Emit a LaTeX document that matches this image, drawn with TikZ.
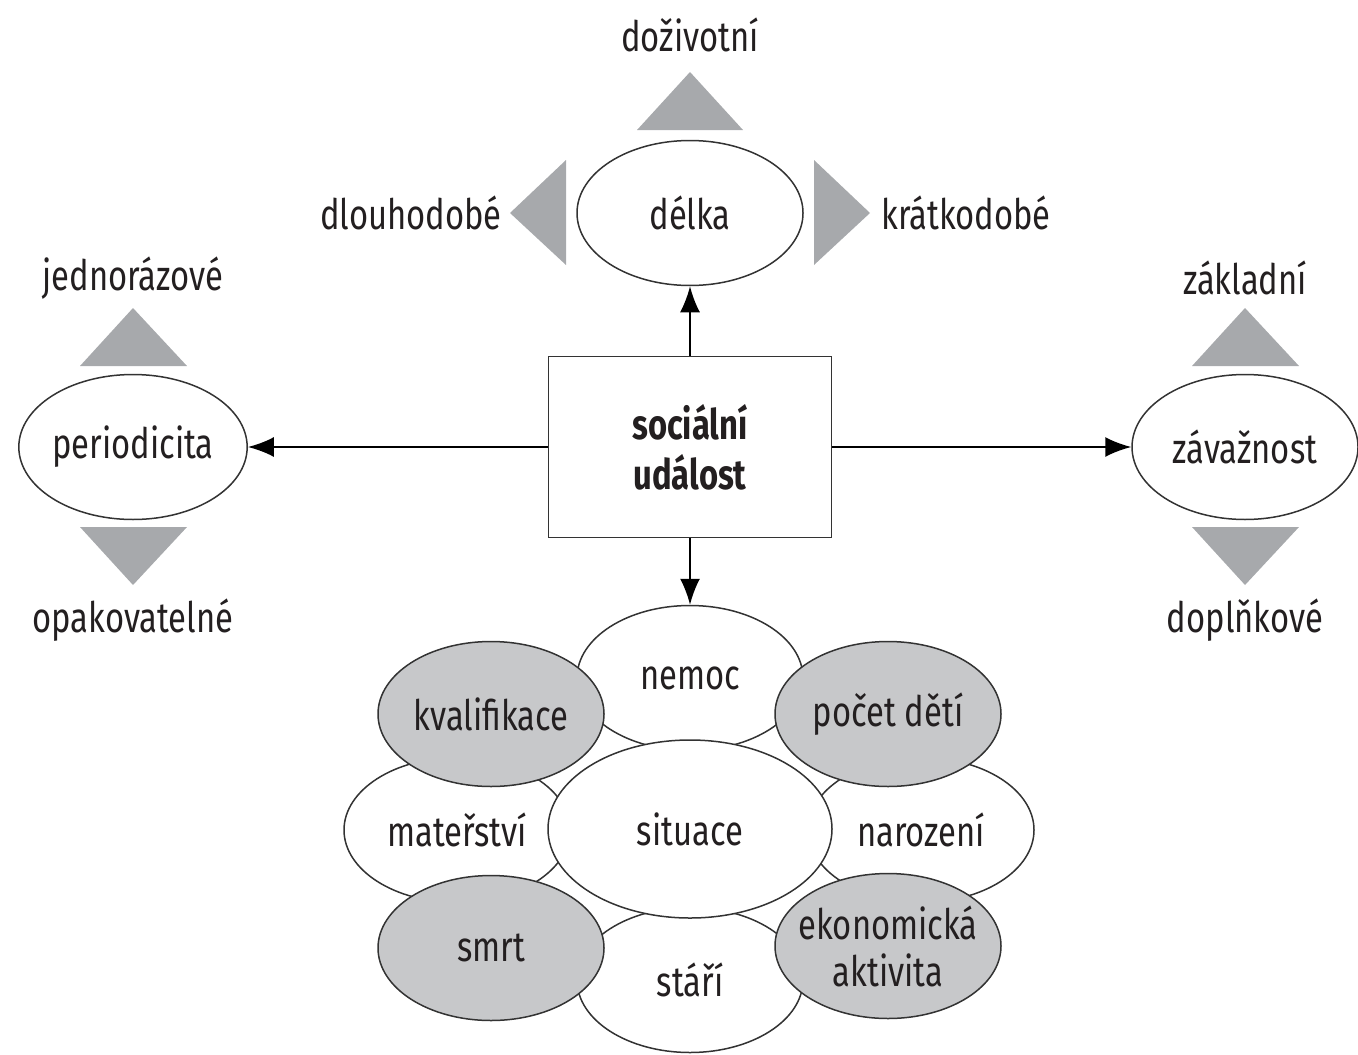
\documentclass[tikz,border=0pt]{standalone}
\usepackage{fontspec}
\setmainfont{Fira Sans}[FakeStretch=0.78]
\usetikzlibrary{arrows.meta,shapes.geometric}
\definecolor{txtgray}{HTML}{231F20}
\definecolor{linegray}{HTML}{333333}
\definecolor{trigray}{HTML}{A7A9AC}
\definecolor{petalgray}{HTML}{C7C8CA}

\begin{document}
\begin{tikzpicture}[x=0.5pt,y=-0.5pt,
  every node/.style={text=txtgray,font=\fontsize{21}{24}\selectfont},
  oval/.style={ellipse,draw=linegray,line width=0.75pt,fill=white,minimum width=113pt,minimum height=72.5pt,inner sep=0pt},
  petal/.style={oval,fill=petalgray},
  arr/.style={-{Latex[length=13pt,width=10pt]},line width=1pt},
  tri/.style={fill=trigray}]
\useasboundingbox (0,0) rectangle (1358,1054);

% triangles
\fill[tri] (637,130) -- (690,72) -- (743,130) -- cycle;
\fill[tri] (566,160) -- (510,213) -- (566,265) -- cycle;
\fill[tri] (814,160) -- (870,213) -- (814,265) -- cycle;
\fill[tri] (80,366) -- (133,308) -- (187,366) -- cycle;
\fill[tri] (80,527) -- (133,585) -- (187,527) -- cycle;
\fill[tri] (1192,366) -- (1245,308) -- (1299,366) -- cycle;
\fill[tri] (1192,527) -- (1245,585) -- (1299,527) -- cycle;

\node[draw=linegray,line width=0.9pt,fill=white,minimum width=141.5pt,minimum height=90.5pt,align=center,font=\fontsize{21}{25}\selectfont\bfseries] (udalost) at (690,447) {sociální\\událost};

\node[oval] (delka) at (690,213) {délka};
\node[oval] (perio) at (133,447) {periodicita};
\node[oval] (zavaz) at (1245,447) {závažnost};

\node (dozivot) at (690,35) {doživotní};
\node (dlouho) at (411,213) {dlouhodobé};
\node (kratko) at (966,213) {krátkodobé};
\node (jedno) at (133,278) {jednorázové};
\node (opak) at (133,620) {opakovatelné};
\node (zakl) at (1245,278) {základní};
\node (dopln) at (1245,620) {doplňkové};

% situace
\node[oval] (nemoc) at (690,678) {\raisebox{-2pt}{nemoc}};
\node[oval] (matersvi) at (457,830) {mateřství};
\node[oval] (narozeni) at (921,830) {narození};
\node[oval] (stari) at (690,980) {\raisebox{-2pt}{stáří}};
\node[petal] (kvalif) at (491,714) {kvalifikace};
\node[petal] (pocet) at (888,714) {počet dětí};
\node[petal] (smrt) at (491,948) {smrt};
\node[petal,inner xsep=-12pt,inner ysep=-4pt,align=center,font=\fontsize{21}{23.5}\selectfont] (ekonom) at (888,946) {ekonomická\\aktivita};
\node[oval,minimum width=142pt,minimum height=89pt] (situace) at (690,829) {situace};

\draw[arr] (udalost) -- (delka);
\draw[arr] (udalost) -- (perio);
\draw[arr] (udalost) -- (zavaz);
\draw[arr] (udalost) -- (nemoc);
\end{tikzpicture}
\end{document}
